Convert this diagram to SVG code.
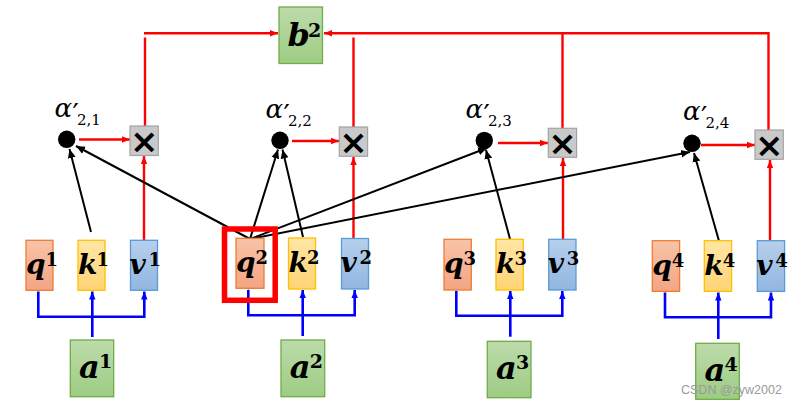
<svg xmlns="http://www.w3.org/2000/svg" width="795" height="407" viewBox="0 0 795 407">
<defs>
<linearGradient id="gq" x1="0" y1="0" x2="0" y2="1"><stop offset="0" stop-color="#f8c3a8"/><stop offset="1" stop-color="#f3a582"/></linearGradient>
<linearGradient id="gk" x1="0" y1="0" x2="0" y2="1"><stop offset="0" stop-color="#ffe5a6"/><stop offset="1" stop-color="#ffd474"/></linearGradient>
<linearGradient id="gv" x1="0" y1="0" x2="0" y2="1"><stop offset="0" stop-color="#b6cfec"/><stop offset="1" stop-color="#92b6e0"/></linearGradient>
<linearGradient id="gg" x1="0" y1="0" x2="0" y2="1"><stop offset="0" stop-color="#bddbab"/><stop offset="1" stop-color="#9dcc84"/></linearGradient>
<marker id="ar" viewBox="0 0 8 8" refX="8" refY="4" markerWidth="8" markerHeight="8" markerUnits="userSpaceOnUse" orient="auto"><path d="M0,0.8 L8,4 L0,7.2 Z" fill="#ff0000"/></marker>
<marker id="ab" viewBox="0 0 8 8" refX="8" refY="4" markerWidth="8" markerHeight="8" markerUnits="userSpaceOnUse" orient="auto"><path d="M0,0.8 L8,4 L0,7.2 Z" fill="#0000ff"/></marker>
<marker id="ak" viewBox="0 0 8 8" refX="8" refY="4" markerWidth="9" markerHeight="9" markerUnits="userSpaceOnUse" orient="auto"><path d="M0,0.5 L8,4 L0,7.5 Z" fill="#000"/></marker>
</defs>
<style>
.q{fill:url(#gq);stroke:#ed7d31;stroke-width:1.3}
.k{fill:url(#gk);stroke:#ffc000;stroke-width:1.3}
.v{fill:url(#gv);stroke:#5b9bd5;stroke-width:1.3}
.g{fill:url(#gg);stroke:#70ad47;stroke-width:1.3}
.m{fill:#c9c9c9;stroke:#a3a3a3;stroke-width:1.2}
.x{font-family:"DejaVu Sans",sans-serif;font-size:34px;font-weight:bold;text-anchor:middle;fill:#000}
.t{font-family:"DejaVu Serif",serif;font-weight:bold;font-style:italic;font-size:28px;fill:#000}
.tb{font-family:"DejaVu Serif",serif;font-weight:bold;font-style:italic;font-size:32px;fill:#000}
.s{font-family:"DejaVu Serif",serif;font-weight:bold;font-style:normal;font-size:18px}
.s2{font-family:"DejaVu Serif",serif;font-weight:bold;font-style:normal;font-size:19px}
.al{font-family:"DejaVu Serif",serif;font-style:italic;font-size:26px;fill:#000}
.pr{font-style:normal;font-size:28px}
.sb{font-style:normal;font-size:15px}
.red{stroke:#ff0000;stroke-width:2.4;fill:none}
.blue{stroke:#0000ff;stroke-width:2.6;fill:none}
.blk{stroke:#000;stroke-width:2;fill:none}
.wm{font-family:"Liberation Sans",Arial,sans-serif;font-size:12.5px;fill:#9a9a9a}
</style>

<g id="connectors">
<line class="red" x1="79" y1="139.5" x2="130" y2="139.5" marker-end="url(#ar)"/>
<line class="red" x1="292" y1="141" x2="339" y2="141" marker-end="url(#ar)"/>
<line class="red" x1="498" y1="143" x2="548" y2="143" marker-end="url(#ar)"/>
<line class="red" x1="701" y1="145" x2="755" y2="145" marker-end="url(#ar)"/>
<line class="red" x1="144" y1="240" x2="144" y2="156" marker-end="url(#ar)"/>
<line class="red" x1="353.5" y1="238.5" x2="353.5" y2="157" marker-end="url(#ar)"/>
<line class="red" x1="563" y1="239" x2="563" y2="158" marker-end="url(#ar)"/>
<line class="red" x1="770" y1="240.5" x2="770" y2="160" marker-end="url(#ar)"/>
<line class="red" x1="145" y1="126" x2="145" y2="37.5"/>
<line class="red" x1="144" y1="33.3" x2="278" y2="33.3" marker-end="url(#ar)"/>
<line class="red" x1="353.5" y1="127" x2="353.5" y2="37.5"/>
<polyline class="red" points="768.5,130 768.5,33.3 324,33.3" marker-end="url(#ar)"/>
<line class="red" x1="562.5" y1="128.5" x2="562.5" y2="33.3"/>
<line class="blk" x1="91" y1="232" x2="69.5" y2="149" marker-end="url(#ak)"/>
<line class="blk" x1="250" y1="239" x2="76" y2="146" marker-end="url(#ak)"/>
<line class="blk" x1="250" y1="239" x2="278" y2="149.5" marker-end="url(#ak)"/>
<line class="blk" x1="303" y1="237" x2="282.5" y2="149.5" marker-end="url(#ak)"/>
<line class="blk" x1="250" y1="239" x2="487" y2="148" marker-end="url(#ak)"/>
<line class="blk" x1="510" y1="239" x2="486" y2="150" marker-end="url(#ak)"/>
<line class="blk" x1="250" y1="239" x2="690" y2="152" marker-end="url(#ak)"/>
<line class="blk" x1="719" y1="241" x2="694" y2="153" marker-end="url(#ak)"/>
<line class="blue" x1="92.3" y1="337" x2="92.3" y2="291.5" marker-end="url(#ab)"/>
<polyline class="blue" points="38.3,291.5 38.3,316.7 144.3,316.7 144.3,291.5" marker-start="url(#ab)" marker-end="url(#ab)"/>
<line class="blue" x1="302.7" y1="336" x2="302.7" y2="290" marker-end="url(#ab)"/>
<polyline class="blue" points="248.3,290 248.3,315.3 354.7,315.3 354.7,290" marker-start="url(#ab)" marker-end="url(#ab)"/>
<line class="blue" x1="510.3" y1="336.7" x2="510.3" y2="291" marker-end="url(#ab)"/>
<polyline class="blue" points="456.3,291 456.3,315.7 562.3,315.7 562.3,291" marker-start="url(#ab)" marker-end="url(#ab)"/>
<line class="blue" x1="718.3" y1="339" x2="718.3" y2="292.5" marker-end="url(#ab)"/>
<polyline class="blue" points="665,292.5 665,317.3 771,317.3 771,292.5" marker-start="url(#ab)" marker-end="url(#ab)"/>
</g>

<g id="b2"><rect class="g" x="279" y="7" width="43.5" height="56.5"/><text class="tb" x="287.5" y="45.5">b<tspan class="s2" x="308" y="37.3">2</tspan></text></g>

<g id="alpha21"><circle cx="66.7" cy="139.3" r="8.7"/><text class="al" x="54.5" y="117">α<tspan class="pr" x="72.5" y="124">′</tspan><tspan class="sb" x="77" y="125">2,1</tspan></text></g>
<g id="alpha22"><circle cx="280" cy="140.3" r="8.7"/><text class="al" x="265.5" y="117.5">α<tspan class="pr" x="283.5" y="124.5">′</tspan><tspan class="sb" x="288" y="125.5">2,2</tspan></text></g>
<g id="alpha23"><circle cx="484.3" cy="140.5" r="8.7"/><text class="al" x="465.5" y="118">α<tspan class="pr" x="483.5" y="125">′</tspan><tspan class="sb" x="488" y="126">2,3</tspan></text></g>
<g id="alpha24"><circle cx="692" cy="143.3" r="8.7"/><text class="al" x="683" y="120">α<tspan class="pr" x="701" y="127">′</tspan><tspan class="sb" x="705.5" y="128">2,4</tspan></text></g>

<g id="mul1"><rect class="m" x="130" y="126" width="28.3" height="29.5"/><text class="x" x="144.2" y="153">×</text></g>
<g id="mul2"><rect class="m" x="339.3" y="127" width="28.3" height="29.3"/><text class="x" x="353.5" y="154">×</text></g>
<g id="mul3"><rect class="m" x="548.3" y="128.3" width="28.3" height="29"/><text class="x" x="562.5" y="155">×</text></g>
<g id="mul4"><rect class="m" x="755" y="130" width="28.3" height="29.3"/><text class="x" x="769.2" y="157">×</text></g>

<g id="q1"><rect class="q" x="26" y="240.3" width="27" height="50"/><text class="t" x="26" y="274">q<tspan class="s" x="45.5" y="266">1</tspan></text></g>
<g id="k1"><rect class="k" x="78" y="240.3" width="27" height="50"/><text class="t" x="78" y="274">k<tspan class="s" x="96.5" y="266">1</tspan></text></g>
<g id="v1"><rect class="v" x="130.5" y="240.3" width="27" height="50"/><text class="t" x="129.5" y="274">v<tspan class="s" x="148.5" y="266">1</tspan></text></g>

<g id="q2"><rect class="q" x="236" y="238.3" width="28" height="50"/><text class="t" x="236" y="272">q<tspan class="s" x="255.5" y="264">2</tspan></text><rect x="224.5" y="229" width="50.7" height="71.3" fill="none" stroke="#ff0000" stroke-width="5.5"/></g>
<g id="k2"><rect class="k" x="288.5" y="238" width="27" height="51"/><text class="t" x="288.5" y="272">k<tspan class="s" x="307" y="264">2</tspan></text></g>
<g id="v2"><rect class="v" x="341.5" y="238.5" width="27" height="50.5"/><text class="t" x="340.5" y="272">v<tspan class="s" x="359.5" y="264">2</tspan></text></g>

<g id="q3"><rect class="q" x="444" y="239.3" width="27.3" height="50.7"/><text class="t" x="444" y="273">q<tspan class="s" x="463.5" y="265">3</tspan></text></g>
<g id="k3"><rect class="k" x="496" y="239.3" width="27.3" height="50.7"/><text class="t" x="496" y="273">k<tspan class="s" x="514.5" y="265">3</tspan></text></g>
<g id="v3"><rect class="v" x="548.7" y="239.3" width="27.3" height="50.7"/><text class="t" x="547.7" y="273">v<tspan class="s" x="566.7" y="265">3</tspan></text></g>

<g id="q4"><rect class="q" x="652.3" y="240.7" width="27.3" height="50.7"/><text class="t" x="652.3" y="274.5">q<tspan class="s" x="671.8" y="266.5">4</tspan></text></g>
<g id="k4"><rect class="k" x="704.3" y="240.7" width="27.3" height="50.7"/><text class="t" x="704.3" y="274.5">k<tspan class="s" x="722.8" y="266.5">4</tspan></text></g>
<g id="v4"><rect class="v" x="757.3" y="240.7" width="27.3" height="50.7"/><text class="t" x="756.3" y="274.5">v<tspan class="s" x="775.3" y="266.5">4</tspan></text></g>

<g id="a1"><rect class="g" x="70.3" y="340" width="43.4" height="56.7"/><text class="tb" x="79" y="378">a<tspan class="s2" x="99" y="368">1</tspan></text></g>
<g id="a2"><rect class="g" x="281" y="340" width="43.7" height="56.7"/><text class="tb" x="289.7" y="378">a<tspan class="s2" x="309.7" y="368">2</tspan></text></g>
<g id="a3"><rect class="g" x="487.3" y="341.3" width="43.7" height="56.4"/><text class="tb" x="496" y="379.3">a<tspan class="s2" x="516" y="369.3">3</tspan></text></g>
<g id="a4"><rect class="g" x="695.7" y="343.3" width="43.6" height="56"/><text class="tb" x="704.4" y="381.3">a<tspan class="s2" x="724.4" y="371.3">4</tspan></text></g>

<text class="wm" x="681" y="394">CSDN @zyw2002</text>
</svg>
